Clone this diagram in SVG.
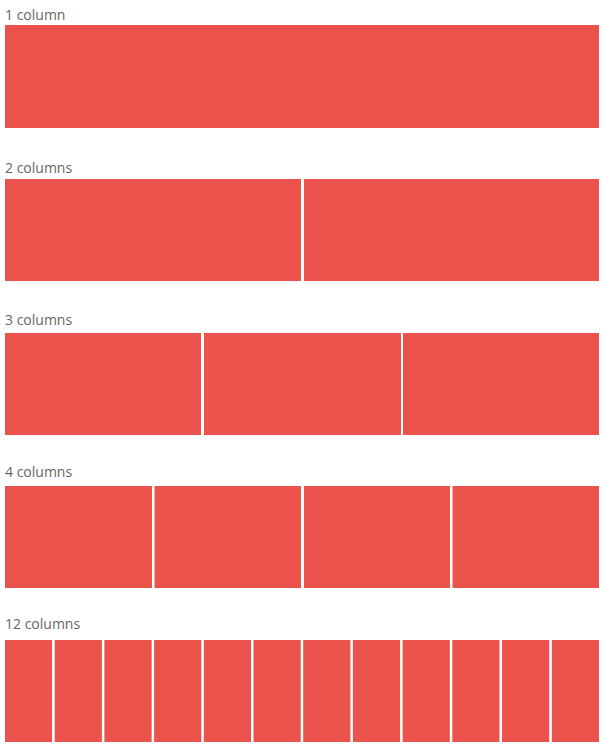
<svg xmlns="http://www.w3.org/2000/svg" width="611" height="751" viewBox="0 0 611 751">
<style>
.c{fill:#EC524C}
.t{font-family:"Open Sans","Noto Sans",sans-serif;font-size:14px;fill:#666}
</style>
<rect width="611" height="751" fill="#fff"/>
<g id="row1">
<text class="t" x="5" y="20">1 column</text>
<rect class="c" x="5" y="25" width="594" height="103"/>
</g>
<g id="row2">
<text class="t" x="5" y="173">2 columns</text>
<rect class="c" x="5" y="179" width="296" height="102"/>
<rect class="c" x="304" y="179" width="295" height="102"/>
</g>
<g id="row3">
<text class="t" x="5" y="325">3 columns</text>
<rect class="c" x="5" y="333" width="196" height="102"/>
<rect class="c" x="204" y="333" width="197" height="102"/>
<rect class="c" x="403" y="333" width="196" height="102"/>
</g>
<g id="row4">
<text class="t" x="5" y="477">4 columns</text>
<rect class="c" x="5" y="486" width="147" height="102"/>
<rect class="c" x="154.5" y="486" width="146.5" height="102"/>
<rect class="c" x="304" y="486" width="146" height="102"/>
<rect class="c" x="452.5" y="486" width="146.5" height="102"/>
</g>
<g id="row5">
<text class="t" x="5" y="629">12 columns</text>
<rect class="c" x="5" y="640" width="47" height="102"/>
<rect class="c" x="54.7" y="640" width="47.2" height="102"/>
<rect class="c" x="104.4" y="640" width="47.2" height="102"/>
<rect class="c" x="154.1" y="640" width="47.2" height="102"/>
<rect class="c" x="203.8" y="640" width="47.2" height="102"/>
<rect class="c" x="253.5" y="640" width="47.2" height="102"/>
<rect class="c" x="303.2" y="640" width="47.2" height="102"/>
<rect class="c" x="352.9" y="640" width="47.2" height="102"/>
<rect class="c" x="402.6" y="640" width="47.2" height="102"/>
<rect class="c" x="452.3" y="640" width="47.2" height="102"/>
<rect class="c" x="502" y="640" width="47.2" height="102"/>
<rect class="c" x="551.8" y="640" width="47.2" height="102"/>
</g>
</svg>
